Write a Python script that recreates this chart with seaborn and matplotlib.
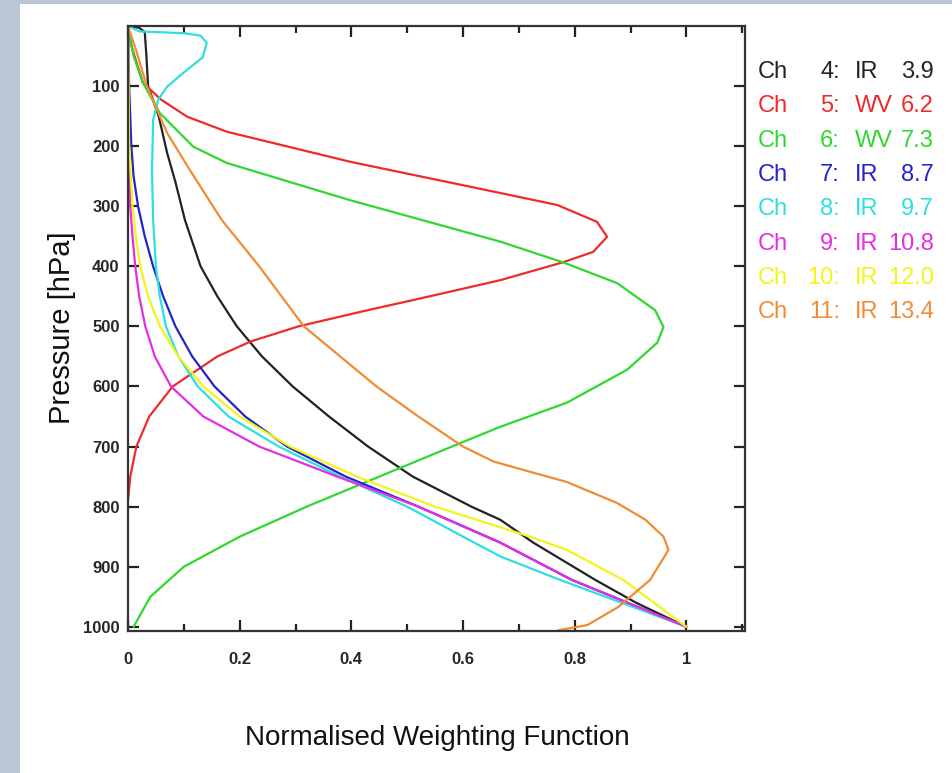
import numpy as np
import pandas as pd
import matplotlib
matplotlib.use("Agg")
import matplotlib.pyplot as plt
from matplotlib.patches import Rectangle
from matplotlib.ticker import MultipleLocator
import seaborn as sns

# channel labels
channels = ["4", "5", "6", "7", "8", "9", "10", "11"]
bands = ["IR", "WV", "WV", "IR", "IR", "IR", "IR", "IR"]
wavelengths = ["3.9", "6.2", "7.3", "8.7", "9.7", "10.8", "12.0", "13.4"]
colors = ["#222222", "#ee2a2a", "#2ed82e", "#2424c8", "#30dede", "#e42ee4", "#f4f41a", "#f08c34"]

# pressure levels [hPa] and normalised weights
p_ch4 = [0, 3, 10, 50, 100, 150, 211, 260, 323, 400, 450, 500, 550, 600, 650, 700, 750, 800, 822, 860, 922, 960, 1000]
w_ch4 = [0, .02, .03, .033, .036, .055, .07, .085, .102, .13, .16, .195, .24, .295, .36, .43, .51, .615, .667, .726, .837, .91, 1.0]

p_ch5 = [0, 30, 60, 95, 123, 151, 176, 226, 278, 298, 326, 351, 376, 393, 423, 450, 475, 500, 525, 550, 600, 650, 700, 750, 790]
w_ch5 = [0, .005, .015, .027, .06, .106, .177, .398, .667, .769, .84, .858, .833, .78, .667, .54, .42, .305, .22, .16, .08, .038, .015, .004, 0]

p_ch6 = [0, 50, 95, 145, 201, 228, 290, 359, 393, 428, 473, 501, 527, 572, 627, 667, 700, 750, 800, 850, 900, 950, 1000]
w_ch6 = [0, .01, .027, .057, .117, .177, .398, .667, .778, .876, .944, .959, .948, .894, .786, .667, .58, .45, .32, .2, .1, .04, .01]

p_ch7 = [0, 100, 200, 250, 300, 350, 400, 450, 500, 550, 600, 650, 700, 750, 800, 860, 922, 1000]
w_ch7 = [0, .002, .006, .01, .018, .03, .045, .063, .085, .115, .155, .21, .285, .39, .52, .667, .795, 1.0]

p_ch8 = [0, 9, 12, 16, 28, 52, 78, 101, 123, 156, 240, 323, 400, 450, 500, 550, 600, 650, 700, 750, 800, 850, 883, 922, 1000]
w_ch8 = [0, .02, .1, .13, .141, .134, .099, .07, .054, .045, .043, .045, .05, .057, .068, .09, .125, .18, .27, .38, .5, .6, .667, .774, 1.0]

p_ch9 = [0, 200, 300, 350, 400, 450, 500, 550, 600, 650, 700, 750, 800, 860, 922, 1000]
w_ch9 = [0, .001, .004, .008, .013, .02, .031, .048, .077, .135, .235, .375, .52, .667, .795, 1.0]

p_ch10 = [0, 200, 300, 350, 400, 450, 500, 550, 600, 650, 700, 750, 800, 850, 872, 922, 1000]
w_ch10 = [0, .002, .008, .014, .022, .036, .057, .09, .135, .2, .29, .41, .55, .72, .786, .887, 1.0]

p_ch11 = [0, 45, 101, 178, 240, 323, 400, 500, 600, 650, 700, 725, 742, 759, 794, 822, 850, 872, 922, 967, 997, 1006]
w_ch11 = [0, .016, .034, .07, .111, .168, .235, .315, .445, .52, .6, .655, .72, .786, .876, .927, .959, .968, .935, .878, .823, .77]

pressures = [p_ch4, p_ch5, p_ch6, p_ch7, p_ch8, p_ch9, p_ch10, p_ch11]
weights = [w_ch4, w_ch5, w_ch6, w_ch7, w_ch8, w_ch9, w_ch10, w_ch11]

frames = []
for ch, p, w in zip(channels, pressures, weights):
    frames.append(pd.DataFrame({"channel": ch, "pressure": p, "weight": w}))
df = pd.concat(frames, ignore_index=True)

sns.set_theme(style="ticks")
plt.rcParams["font.family"] = ["Liberation Sans", "DejaVu Sans"]

fig = plt.figure(figsize=(9.53, 7.73), dpi=100)
fig.patch.set_facecolor("#bcc7d6")
fig.patches.append(Rectangle((20 / 953, 0), 1 - 20 / 953, 1 - 4 / 773,
                             transform=fig.transFigure, facecolor="white",
                             edgecolor="none", zorder=-10))

ax = fig.add_axes([128 / 953, 1 - 631 / 773, 617 / 953, 605 / 773])
ax.set_facecolor("white")

sns.lineplot(data=df, x="weight", y="pressure", hue="channel",
             palette=dict(zip(channels, colors)), hue_order=channels,
             orient="y", estimator=None, sort=False, linewidth=1.6,
             legend=False, ax=ax)

ax.set_xlim(0, 1.105)
ax.set_ylim(1007, 0)
ax.xaxis.set_major_locator(MultipleLocator(0.2))
ax.xaxis.set_minor_locator(MultipleLocator(0.1))
ax.set_yticks(range(100, 1001, 100))
ax.set_xticks([0, 0.2, 0.4, 0.6, 0.8, 1.0])
ax.set_xticklabels(["0", "0.2", "0.4", "0.6", "0.8", "1"])
ax.tick_params(axis="both", which="both", direction="in", top=True, right=True,
               color="#222222", width=1.6)
ax.tick_params(axis="both", which="major", length=8, labelsize=12)
ax.tick_params(axis="x", which="major", pad=15)
ax.tick_params(axis="y", which="major", pad=6)
ax.tick_params(axis="both", which="minor", length=5)
for lab in ax.get_xticklabels() + ax.get_yticklabels():
    lab.set_fontweight("bold")
for s in ax.spines.values():
    s.set_linewidth(1.6)
    s.set_color("#333333")
ax.set_xlabel("")
ax.set_ylabel("")

fig.text(62 / 953, 1 - 328 / 773, "Pressure [hPa]", rotation=90,
         ha="center", va="center", fontsize=21, color="#111111")
fig.text(437 / 953, 1 - 738 / 773, "Normalised Weighting Function",
         ha="center", va="center", fontsize=20, color="#111111")

# channel key on the right
for i, (ch, band, wl, c) in enumerate(zip(channels, bands, wavelengths, colors)):
    y = 1 - (72 + 34.3 * i) / 773
    fig.text(758 / 953, y, "Ch", color=c, fontsize=17, ha="left", va="center")
    fig.text(840 / 953, y, ch + ":", color=c, fontsize=17, ha="right", va="center")
    fig.text(855 / 953, y, band, color=c, fontsize=17, ha="left", va="center")
    fig.text(934 / 953, y, wl, color=c, fontsize=17, ha="right", va="center")

fig.savefig("out.png", dpi=100, facecolor=fig.get_facecolor())
